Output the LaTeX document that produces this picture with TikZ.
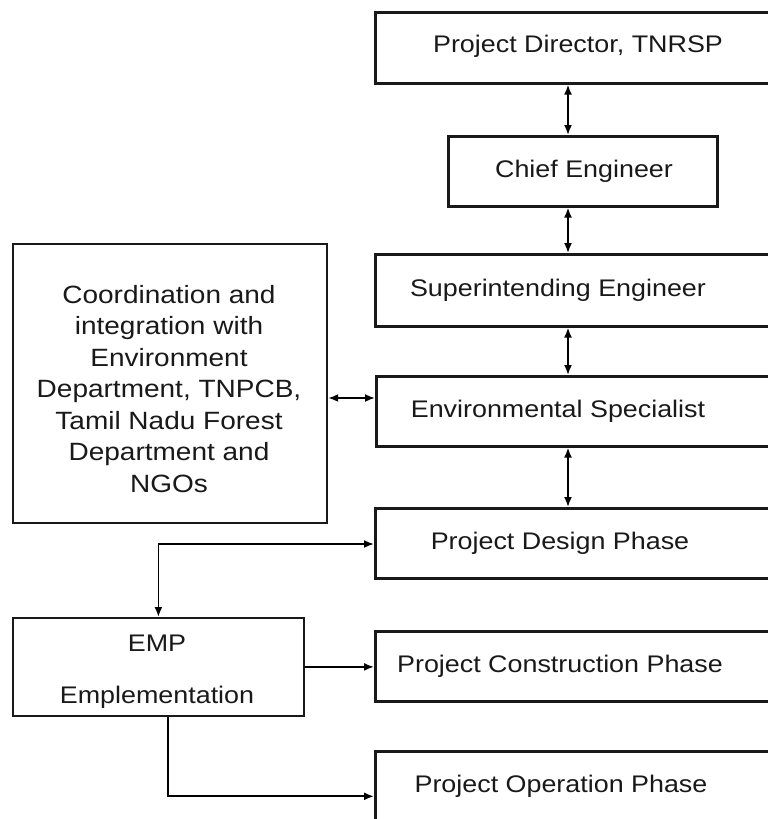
\documentclass[tikz,border=0pt]{standalone}
\usepackage{fontspec}
\setmainfont{Liberation Sans}[FakeStretch=1.12]
\usetikzlibrary{arrows.meta,calc}
\begin{document}
\begin{tikzpicture}[x=1pt,y=-1pt,
  box/.style={draw=black!90,line width=2.6pt,rectangle,anchor=north west,inner sep=0pt},
  lbl/.style={font=\fontsize{24}{29}\selectfont,text=black!90,inner sep=0pt},
  biarrow/.style={line width=1.8pt,{Latex[length=10pt,width=8pt]}-{Latex[length=10pt,width=8pt]}},
  onearrow/.style={line width=1.8pt,-{Latex[length=10pt,width=8pt]}}]
\useasboundingbox (0,0) rectangle (768,819);
% right column boxes
\node[box,minimum width=400pt,minimum height=71pt] (pd) at (374,11) {};
\node[lbl] (pdt) at (578,46) {Project Director, TNRSP};
\node[box,minimum width=269pt,minimum height=70pt] (ce) at (447,135) {};
\node[lbl] (cet) at (584,171) {Chief Engineer};
\node[box,minimum width=400pt,minimum height=72pt] (se) at (374,253) {};
\node[lbl] (set) at (558,290) {Superintending Engineer};
\node[box,minimum width=400pt,minimum height=70pt] (es) at (375,375) {};
\node[lbl] (est) at (558,411) {Environmental Specialist};
\node[box,minimum width=400pt,minimum height=70pt] (dp) at (374,507) {};
\node[lbl] (dpt) at (560,543) {Project Design Phase};
\node[box,minimum width=400pt,minimum height=70pt] (cp) at (374,630) {};
\node[lbl] (cpt) at (560,666) {Project Construction Phase};
\node[box,minimum width=400pt,minimum height=90pt] (op) at (374,750) {};
\node[lbl] (opt) at (561,786) {Project Operation Phase};
% left boxes
\node[box,line width=2.2pt,minimum width=314pt,minimum height=279pt] (co) at (12,243) {};
\node[lbl,font=\fontsize{25}{31.5}\selectfont,align=center] (cot) at (169,389)
  {Coordination and\\integration with\\Environment\\Department, TNPCB,\\Tamil Nadu Forest\\Department and\\NGOs};
\node[box,line width=1.8pt,minimum width=291pt,minimum height=98pt] (emp) at (12,617) {};
\node[lbl,align=center,font=\fontsize{24}{52}\selectfont] (empt) at (157,672) {EMP\\Emplementation};
% connectors
\coordinate (ax) at (568,0);
\draw[biarrow] (pd.south -| ax) -- (ce.north -| ax);
\draw[biarrow] (ce.south -| ax) -- (se.north -| ax);
\draw[biarrow] (se.south -| ax) -- (es.north -| ax);
\draw[biarrow] (es.south -| ax) -- (dp.north -| ax);
\coordinate (cy) at (0,398);
\draw[biarrow] (co.east |- cy) -- (es.west |- cy);
\coordinate (dy) at (0,544);
\draw[biarrow] (dp.west |- dy) -| (emp.north);
\draw[onearrow] (emp.east) -- (emp.east -| cp.west);
\coordinate (ox) at (168,0);
\draw[onearrow] (emp.south -| ox) |- (op.west);
\end{tikzpicture}
\end{document}
